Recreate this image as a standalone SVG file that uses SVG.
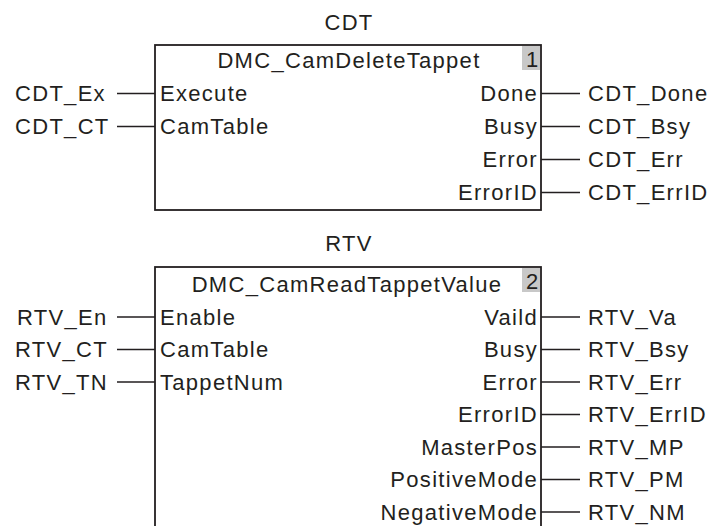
<svg xmlns="http://www.w3.org/2000/svg" width="713" height="526" viewBox="0 0 713 526">
<style>
text{font-family:"Liberation Sans",Arial,sans-serif;font-size:22px;fill:#231f20;letter-spacing:1.3px}
.e{text-anchor:end}
.m{text-anchor:middle}
.box{fill:#fff;stroke:#231f20;stroke-width:1.8}
.num{fill:#c8c8c8}
.w{stroke:#231f20;stroke-width:1.4;fill:none}
</style>
<rect width="713" height="526" fill="#fff"/>
<g id="CDT">
<text class="m" x="349" y="30">CDT</text>
<rect class="box" x="155" y="45" width="386" height="165"/>
<rect class="num" x="522" y="46" width="18" height="24"/>
<text x="526" y="67" style="letter-spacing:0">1</text>
<text class="m" x="349" y="68">DMC_CamDeleteTappet</text>
<text x="160" y="101">Execute</text>
<text x="160" y="134">CamTable</text>
<text class="e" x="538" y="101">Done</text>
<text class="e" x="538" y="134">Busy</text>
<text class="e" x="538" y="167">Error</text>
<text class="e" x="538" y="200">ErrorID</text>
<text x="15" y="101">CDT_Ex</text>
<text x="15" y="134">CDT_CT</text>
<text x="588" y="101">CDT_Done</text>
<text x="588" y="134">CDT_Bsy</text>
<text x="588" y="167">CDT_Err</text>
<text x="588" y="200">CDT_ErrID</text>
</g>
<g id="RTV">
<text class="m" x="349" y="251">RTV</text>
<rect class="box" x="155" y="267" width="386" height="280"/>
<rect class="num" x="522" y="268" width="18" height="24"/>
<text x="526" y="289" style="letter-spacing:0">2</text>
<text class="m" x="347" y="292">DMC_CamReadTappetValue</text>
<text x="160" y="324.5">Enable</text>
<text x="160" y="357">CamTable</text>
<text x="160" y="389.5">TappetNum</text>
<text class="e" x="538" y="324.5">Vaild</text>
<text class="e" x="538" y="357">Busy</text>
<text class="e" x="538" y="389.5">Error</text>
<text class="e" x="538" y="422">ErrorID</text>
<text class="e" x="538" y="454.5">MasterPos</text>
<text class="e" x="538" y="487">PositiveMode</text>
<text class="e" x="538" y="519.5">NegativeMode</text>
<text x="17" y="324.5">RTV_En</text>
<text x="15" y="357">RTV_CT</text>
<text x="15" y="389.5">RTV_TN</text>
<text x="588" y="324.5">RTV_Va</text>
<text x="588" y="357">RTV_Bsy</text>
<text x="588" y="389.5">RTV_Err</text>
<text x="588" y="422">RTV_ErrID</text>
<text x="588" y="454.5">RTV_MP</text>
<text x="588" y="487">RTV_PM</text>
<text x="588" y="519.5">RTV_NM</text>
</g>
<g id="connectors" class="w">
<path class="w" d="M117 93.5H155M117 126.5H155M541 93.5H580M541 126.5H580M541 159.5H580M541 192.5H580"/>
<path class="w" d="M117 317H155M117 349.5H155M117 382H155M541 317H580M541 349.5H580M541 382H580M541 414.5H580M541 447H580M541 479.5H580M541 512H580"/>
</g>
</svg>
